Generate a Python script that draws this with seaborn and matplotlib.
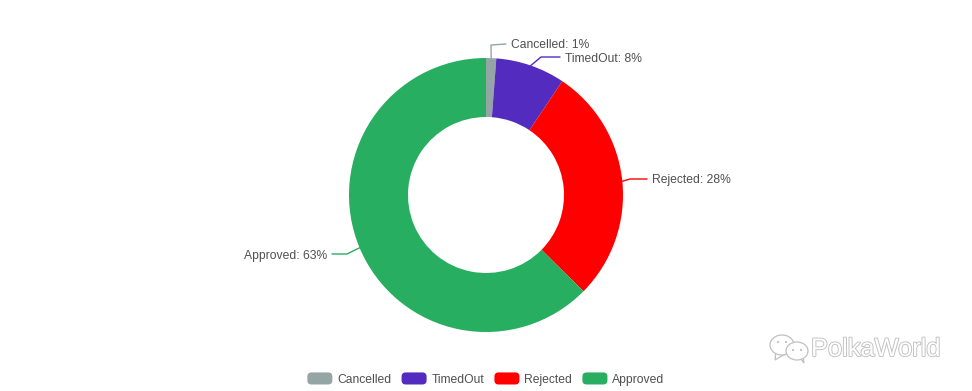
import numpy as np
import matplotlib
matplotlib.use("Agg")
import matplotlib.pyplot as plt
import matplotlib.patheffects as pe
from matplotlib.patches import FancyBboxPatch, Ellipse, Polygon
from matplotlib.legend_handler import HandlerPatch
import seaborn as sns

categories = ["Cancelled", "TimedOut", "Rejected", "Approved"]
values = [1.2, 8.2, 28.0, 62.6]
shown = [1, 8, 28, 63]
colors = ["#95A5A6", "#532CBF", "#FF0000", "#27AE60"]

sns.set_theme(style="white")
plt.rcParams["font.family"] = ["Liberation Sans", "DejaVu Sans"]
sns.set_palette(colors)

W, H = 972, 391
fig = plt.figure(figsize=(W / 100, H / 100), dpi=100)
ax = fig.add_axes([0, 0, 1, 1])
cx, cy, R, r = 486, H - 195, 137, 78
wedges, _ = ax.pie(values, colors=sns.color_palette(), startangle=90, counterclock=False,
                   radius=R, center=(cx, cy), wedgeprops=dict(width=R - r, linewidth=0),
                   frame=True)
ax.set_xlim(0, W)
ax.set_ylim(0, H)
ax.set_axis_off()

bends = [(491, H - 45), (541, H - 57), (630, H - 179), (347, H - 254)]
ends = [(506, H - 44), (560, H - 57), (647, H - 179), (332, H - 254)]
tc = "#505050"
for w, cat, s, b, e in zip(wedges, categories, shown, bends, ends):
    a = np.deg2rad((w.theta1 + w.theta2) / 2)
    p0 = (cx + R * np.cos(a), cy + R * np.sin(a))
    ax.plot(*zip(*[p0, b, e]), color=w.get_facecolor(), lw=1.0, solid_capstyle="round")
    left = e[0] < cx
    ax.text(e[0] + (-5 if left else 5), e[1] - 1.5, f"{cat}: {s}%", ha="right" if left else "left",
            va="center", fontsize=8.75, color=tc)


class RoundHandler(HandlerPatch):
    def create_artists(self, legend, orig, xd, yd, w, h, fs, trans):
        p = FancyBboxPatch((-xd + 2, -yd + 2), w - 4, h - 4, boxstyle="round,pad=2,rounding_size=3",
                           facecolor=orig.get_facecolor(), edgecolor="none", transform=trans)
        return [p]


ax.legend(wedges, categories, handler_map={type(wedges[0]): RoundHandler()},
          loc="center", bbox_to_anchor=(486 / W, (H - 379) / H), ncol=4, frameon=False,
          fontsize=8.75, labelcolor=tc, handlelength=2.06, handleheight=1.15,
          columnspacing=0.83, handletextpad=0.41, borderpad=0)

# watermark
edge = "#c0c0c0"
ax.text(811, H - 349, "PolkaWorld", fontsize=18.3, color="white", va="center", ha="left",
        path_effects=[pe.withStroke(linewidth=1.3, foreground=edge)])
ax.add_patch(Polygon([(776, H - 351), (775, H - 360), (785, H - 354)], fc="white", ec=edge, lw=0.9, zorder=5))
ax.add_patch(Ellipse((782, H - 345), 24, 20, fc="white", ec=edge, lw=0.9, zorder=5))
ax.add_patch(Polygon([(800, H - 358), (804, H - 363), (803, H - 356)], fc="white", ec=edge, lw=0.9, zorder=6))
ax.add_patch(Ellipse((797, H - 351), 22, 18, fc="white", ec=edge, lw=0.9, zorder=6))
for x, y, z in [(778, 342, 7), (786, 342, 7), (793, 350, 7), (801, 350, 7)]:
    ax.add_patch(Ellipse((x, H - y), 2.2, 2.2, fc=edge, ec="none", zorder=z))
fig.savefig("out.png", dpi=100)
